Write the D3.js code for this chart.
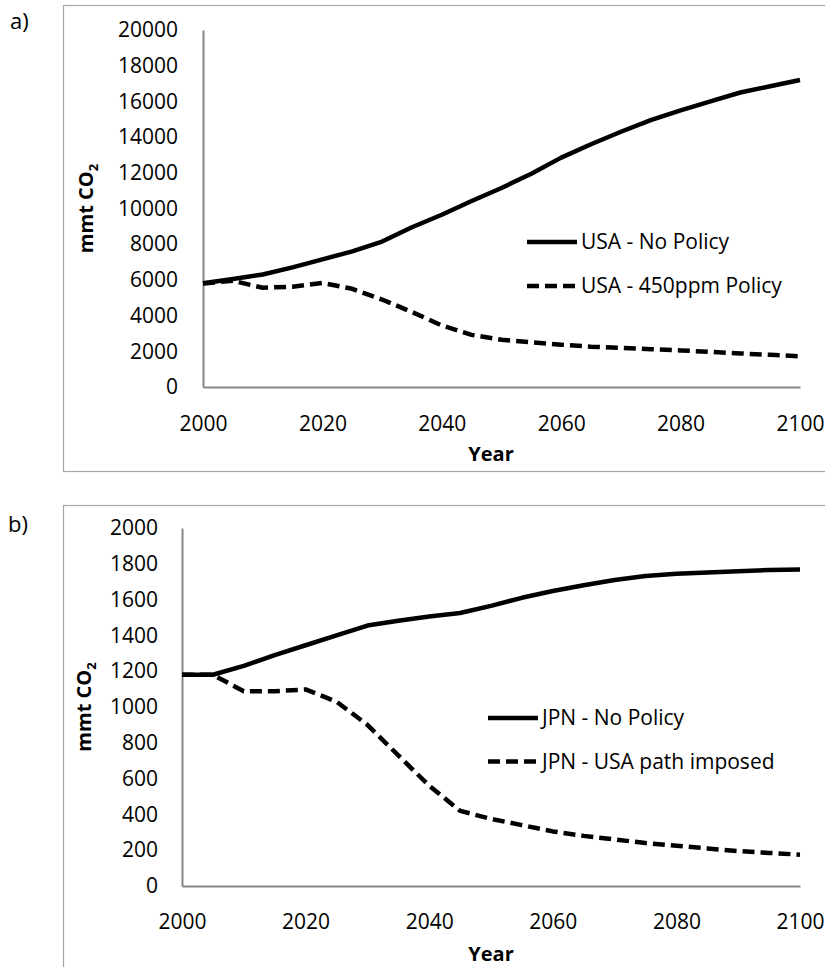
<!DOCTYPE html>
<html lang="en">
<head>
<meta charset="UTF-8">
<title>CO2 emissions paths</title>
<script src="https://d3js.org/d3.v7.min.js"></script>
<style>
    body { margin: 0; background: #fff; }
    svg text { font-family: "Open Sans", "Noto Sans", sans-serif; fill: #000; }
    .tick-label { font-size: 21px; }
    .axis-title { font-size: 20px; font-weight: bold; }
</style>
</head>
<body>
<div id="chart"></div>
<script>
// years on the x axis (every 5 years)
var years = [2000, 2005, 2010, 2015, 2020, 2025, 2030, 2035, 2040, 2045, 2050,
             2055, 2060, 2065, 2070, 2075, 2080, 2085, 2090, 2095, 2100];

// panel a) USA
var usaNoPolicy = [5810, 6050, 6300, 6700, 7150, 7600, 8150, 8950, 9650, 10420, 11150,
                   11950, 12850, 13600, 14300, 14950, 15500, 16000, 16500, 16850, 17200];
var usa450 = [5800, 5950, 5560, 5620, 5830, 5500, 4900, 4200, 3450, 2920, 2650,
              2500, 2370, 2260, 2190, 2120, 2050, 1970, 1880, 1800, 1720];

// panel b) JPN
var jpnNoPolicy = [1180, 1180, 1230, 1290, 1345, 1400, 1455, 1482, 1505, 1525, 1565,
                   1610, 1648, 1680, 1710, 1732, 1745, 1752, 1758, 1765, 1768];
var jpnUsaPath = [1180, 1180, 1088, 1088, 1098, 1030, 900, 730, 560, 420, 375,
                  340, 305, 280, 260, 240, 225, 210, 195, 185, 175];

var xTicks = [2000, 2020, 2040, 2060, 2080, 2100];
var yTicksA = [0, 2000, 4000, 6000, 8000, 10000, 12000, 14000, 16000, 18000, 20000];
var yTicksB = [0, 200, 400, 600, 800, 1000, 1200, 1400, 1600, 1800, 2000];

var legendA = ["USA - No Policy", "USA - 450ppm Policy"];
var legendB = ["JPN - No Policy", "JPN - USA path imposed"];

var svg = d3.select("#chart").append("svg")
    .attr("width", 825)
    .attr("height", 967);

var dash = "12,6";

function drawPanel(p) {
    // outer frame (runs off the page on the right / bottom)
    svg.append("rect")
        .attr("x", 63.5).attr("y", p.frameTop + 0.5)
        .attr("width", 800).attr("height", p.frameH)
        .attr("fill", "none")
        .attr("stroke", "#a6a6a6")
        .attr("stroke-width", 1.2);

    svg.append("text")
        .attr("x", p.tagX).attr("y", p.tagY)
        .style("font-size", "22px")
        .text(p.tag);

    var x = d3.scaleLinear().domain([2000, 2100]).range([p.left, p.right]);
    var y = d3.scaleLinear().domain([0, p.yMax]).range([p.bottom, p.top]);

    var g = svg.append("g");

    // axes
    var yAxis = g.append("g")
        .attr("transform", "translate(" + p.left + ",0)")
        .call(d3.axisLeft(y).tickValues(p.yTicks).tickSize(0)
            .tickFormat(d3.format("d")).tickPadding(p.left - p.yLabelRight));
    var xAxis = g.append("g")
        .attr("transform", "translate(0," + p.bottom + ")")
        .call(d3.axisBottom(x).tickValues(xTicks).tickSize(0)
            .tickFormat(d3.format("d")).tickPadding(p.xPad));
    [yAxis, xAxis].forEach(function(a) {
        a.select(".domain").attr("stroke", "#868686").attr("stroke-width", 2);
        a.selectAll("text").attr("class", "tick-label").attr("fill", "#000");
    });

    // lines
    var line = d3.line()
        .x(function(d) { return x(d[0]); })
        .y(function(d) { return y(d[1]); });

    p.series.forEach(function(s, i) {
        g.append("path")
            .datum(years.map(function(yr, k) { return [yr, s[k]]; }))
            .attr("d", line)
            .attr("fill", "none")
            .attr("stroke", "#000")
            .attr("stroke-width", 4.5)
            .attr("stroke-linejoin", "round")
            .attr("stroke-dasharray", i === 1 ? dash : null);
    });

    // legend
    p.legend.forEach(function(name, i) {
        var ly = p.legY + i * p.legGap;
        g.append("line")
            .attr("x1", p.legX).attr("x2", p.legX + 50)
            .attr("y1", ly).attr("y2", ly)
            .attr("stroke", "#000")
            .attr("stroke-width", 4.5)
            .attr("stroke-dasharray", i === 1 ? dash : null);
        g.append("text")
            .attr("class", "tick-label")
            .attr("x", p.legX + 54).attr("y", ly)
            .attr("dy", "0.35em")
            .text(name);
    });

    // axis titles
    g.append("text")
        .attr("class", "axis-title")
        .attr("x", p.yearX).attr("y", p.yearY)
        .attr("text-anchor", "middle")
        .text("Year");

    var yt = g.append("text")
        .attr("class", "axis-title")
        .attr("transform", "translate(" + p.yTitleX + "," + ((p.top + p.bottom) / 2) + ") rotate(-90)")
        .attr("text-anchor", "middle");
    yt.append("tspan").text("mmt CO");
    yt.append("tspan").attr("dy", 5).style("font-size", "13px").text("2");
}

drawPanel({
    tag: "a)", tagX: 10, tagY: 29,
    frameTop: 5, frameH: 466,
    left: 203, right: 800, top: 30, bottom: 387,
    yMax: 20000, yTicks: yTicksA, yLabelRight: 178, xPad: 29,
    series: [usaNoPolicy, usa450],
    legend: legendA, legX: 527, legY: 242, legGap: 44,
    yearX: 491, yearY: 461, yTitleX: 93
});

drawPanel({
    tag: "b)", tagX: 8, tagY: 532,
    frameTop: 505, frameH: 500,
    left: 182, right: 800, top: 528, bottom: 886,
    yMax: 2000, yTicks: yTicksB, yLabelRight: 158, xPad: 28,
    series: [jpnNoPolicy, jpnUsaPath],
    legend: legendB, legX: 488, legY: 718, legGap: 43.5,
    yearX: 491, yearY: 961, yTitleX: 91
});
</script>
</body>
</html>
